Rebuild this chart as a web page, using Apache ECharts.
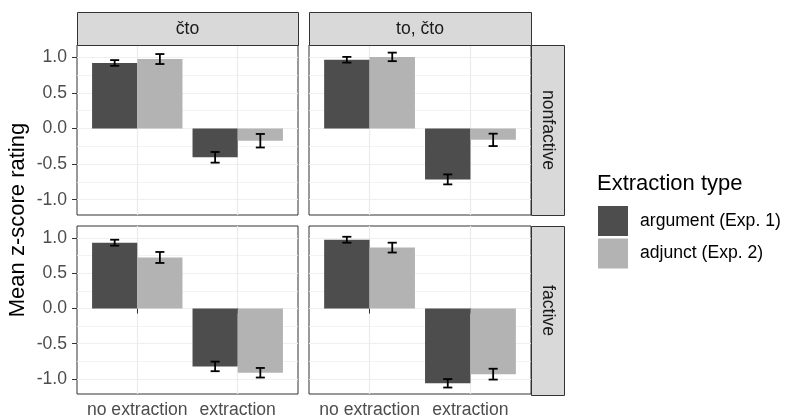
<!DOCTYPE html>
<html>
<head>
<meta charset="utf-8">
<script src="https://cdn.jsdelivr.net/npm/echarts@6/dist/echarts.min.js"></script>
<style>
html,body{margin:0;padding:0;background:#fff;}
#chart{width:788px;height:419px;}
</style>
</head>
<body>
<div id="chart"></div>
<script>
// ---- data ----
const categories = ['no extraction', 'extraction'];
const complementizers = ['čto', 'to, čto'];
const factivity = ['nonfactive', 'factive'];
const seriesNames = ['argument (Exp. 1)', 'adjunct (Exp. 2)'];
const yTicks = [-1, -0.5, 0, 0.5, 1];
const yMinorGrid = [-1, -0.75, -0.5, -0.25, 0, 0.25, 0.5, 0.75, 1];
// panel order: čto/nonfactive, to, čto/nonfactive, čto/factive, to, čto/factive
const argumentMean = [[0.92, -0.405], [0.965, -0.715], [0.935, -0.823], [0.977, -1.063]];
const argumentSE   = [[0.04, 0.075], [0.04, 0.07], [0.042, 0.068], [0.042, 0.06]];
const adjunctMean  = [[0.975, -0.172], [1.005, -0.16], [0.725, -0.913], [0.865, -0.933]];
const adjunctSE    = [[0.07, 0.095], [0.06, 0.087], [0.078, 0.068], [0.07, 0.077]];

// ---- layout ----
const FONT = '"Liberation Sans", Arial, Helvetica, sans-serif';
const yMin = -1.215, yMax = 1.172;
const grids = [
  {left: 77, top: 45, width: 221, height: 170},
  {left: 309, top: 45, width: 222, height: 170},
  {left: 77, top: 226, width: 221, height: 169},
  {left: 309, top: 226, width: 222, height: 169}
];
const colors = ['#4d4d4d', '#b3b3b3'];
const barW = 0.45;

const xAxis = grids.map((g, i) => ({
  type: 'value', gridIndex: i, min: 0.4, max: 2.6,
  axisLine: {show: false},
  axisTick: {show: i >= 2, customValues: [1, 2], length: 5, lineStyle: {color: '#333333', width: 1}},
  axisLabel: {show: i >= 2, customValues: [1, 2], margin: 7, fontSize: 17.6, color: '#4d4d4d', fontFamily: FONT,
    formatter: v => categories[Math.round(v) - 1] || ''},
  splitLine: {show: true, lineStyle: {color: '#ebebeb', width: 1.2}}
}));

const yAxis = [];
grids.forEach((g, i) => {
  const left = (i % 2 === 0);
  yAxis.push({
    type: 'value', gridIndex: i, min: yMin, max: yMax,
    axisLine: {show: false},
    axisTick: {show: left, customValues: yTicks, length: 5, lineStyle: {color: '#333333', width: 1}},
    axisLabel: {show: left, customValues: yTicks, margin: 10, fontSize: 17.6, color: '#4d4d4d', fontFamily: FONT,
      formatter: v => v.toFixed(1)},
    splitLine: {show: true, lineStyle: {color: '#ebebeb', width: 1.2}}
  });
  yAxis.push({
    type: 'value', gridIndex: i, min: yMin, max: yMax,
    axisLine: {show: false},
    axisTick: {show: false, customValues: yMinorGrid},
    axisLabel: {show: false},
    splitLine: {show: true, lineStyle: {color: '#f0f0f0', width: 0.8}}
  });
});

function barRender(offset) {
  return function (params, api) {
    const c = api.value(0), v = api.value(1);
    const p0 = api.coord([c + offset, v]);
    const p1 = api.coord([c + offset + barW, 0]);
    return {
      type: 'rect',
      shape: {x: p0[0], y: Math.min(p0[1], p1[1]), width: p1[0] - p0[0], height: Math.abs(p1[1] - p0[1])},
      style: {fill: api.visual('color')}
    };
  };
}
function errRender(offset) {
  return function (params, api) {
    const c = api.value(0) + offset + barW / 2;
    const m = api.value(1), se = api.value(2);
    const top = api.coord([c, m + se]);
    const bot = api.coord([c, m - se]);
    const half = api.size([0.045, 0])[0];
    const ls = {stroke: '#000', lineWidth: 1.8};
    return {
      type: 'group',
      children: [
        {type: 'line', shape: {x1: top[0], y1: top[1], x2: bot[0], y2: bot[1]}, style: ls},
        {type: 'line', shape: {x1: top[0] - half, y1: top[1], x2: top[0] + half, y2: top[1]}, style: ls},
        {type: 'line', shape: {x1: bot[0] - half, y1: bot[1], x2: bot[0] + half, y2: bot[1]}, style: ls}
      ]
    };
  };
}

const series = [];
const groups = [
  {name: seriesNames[0], mean: argumentMean, se: argumentSE, offset: -barW, color: colors[0]},
  {name: seriesNames[1], mean: adjunctMean, se: adjunctSE, offset: 0, color: colors[1]}
];
grids.forEach((g, i) => {
  groups.forEach(gr => {
    series.push({
      type: 'custom', name: gr.name, xAxisIndex: i, yAxisIndex: 2 * i,
      itemStyle: {color: gr.color}, z: 2, silent: true,
      renderItem: barRender(gr.offset),
      encode: {x: 0, y: 1},
      data: gr.mean[i].map((v, k) => [k + 1, v])
    });
  });
  groups.forEach(gr => {
    series.push({
      type: 'custom', name: 'err', xAxisIndex: i, yAxisIndex: 2 * i, z: 3, silent: true,
      renderItem: errRender(gr.offset),
      encode: {x: 0, y: 1},
      data: gr.mean[i].map((v, k) => [k + 1, v, gr.se[i][k]])
    });
  });
});

const stripFill = '#d9d9d9', stripStroke = '#333333';
const graphic = [];
// top strips
[0, 1].forEach(j => {
  const g = grids[j];
  graphic.push({type: 'rect', shape: {x: g.left + 0.5, y: 12.5, width: g.width, height: 33}, style: {fill: stripFill, stroke: stripStroke, lineWidth: 1}, z: 10});
  graphic.push({type: 'text', x: g.left + g.width / 2, y: 29, style: {text: complementizers[j], fill: '#1a1a1a', font: '17.6px ' + FONT, align: 'center', verticalAlign: 'middle'}, z: 11});
});
// right strips
[1, 3].forEach((gi, j) => {
  const g = grids[gi];
  graphic.push({type: 'rect', shape: {x: g.left + g.width + 0.5, y: g.top + 0.5, width: 33, height: g.height}, style: {fill: stripFill, stroke: stripStroke, lineWidth: 1}, z: 10});
  graphic.push({type: 'text', x: g.left + g.width + 17, y: g.top + g.height / 2, rotation: -Math.PI / 2, style: {text: factivity[j], fill: '#1a1a1a', font: '17.6px ' + FONT, align: 'center', verticalAlign: 'middle'}, z: 11});
});
// y axis title
graphic.push({type: 'text', x: 18, y: 220, rotation: Math.PI / 2, style: {text: 'Mean z-score rating', fill: '#000', font: '22px ' + FONT, align: 'center', verticalAlign: 'middle'}});
// legend title
graphic.push({type: 'text', x: 597, y: 184, style: {text: 'Extraction type', fill: '#000', font: '22px ' + FONT, align: 'left', verticalAlign: 'middle'}});

const chart = echarts.init(document.getElementById('chart'), null, {renderer: 'canvas'});
chart.setOption({
  animation: false,
  backgroundColor: '#ffffff',
  grid: grids.map(g => Object.assign({show: true, borderColor: '#333333', borderWidth: 1, backgroundColor: '#fff', containLabel: false}, g)),
  xAxis: xAxis,
  yAxis: yAxis,
  legend: {
    data: seriesNames, orient: 'vertical', left: 593, top: 201,
    icon: 'rect', itemWidth: 30, itemHeight: 30, itemGap: 2.5,
    selectedMode: false,
    textStyle: {fontSize: 17.6, color: '#000', fontFamily: FONT, padding: [0, 0, 0, 7]}
  },
  graphic: graphic,
  series: series
});
</script>
</body>
</html>
